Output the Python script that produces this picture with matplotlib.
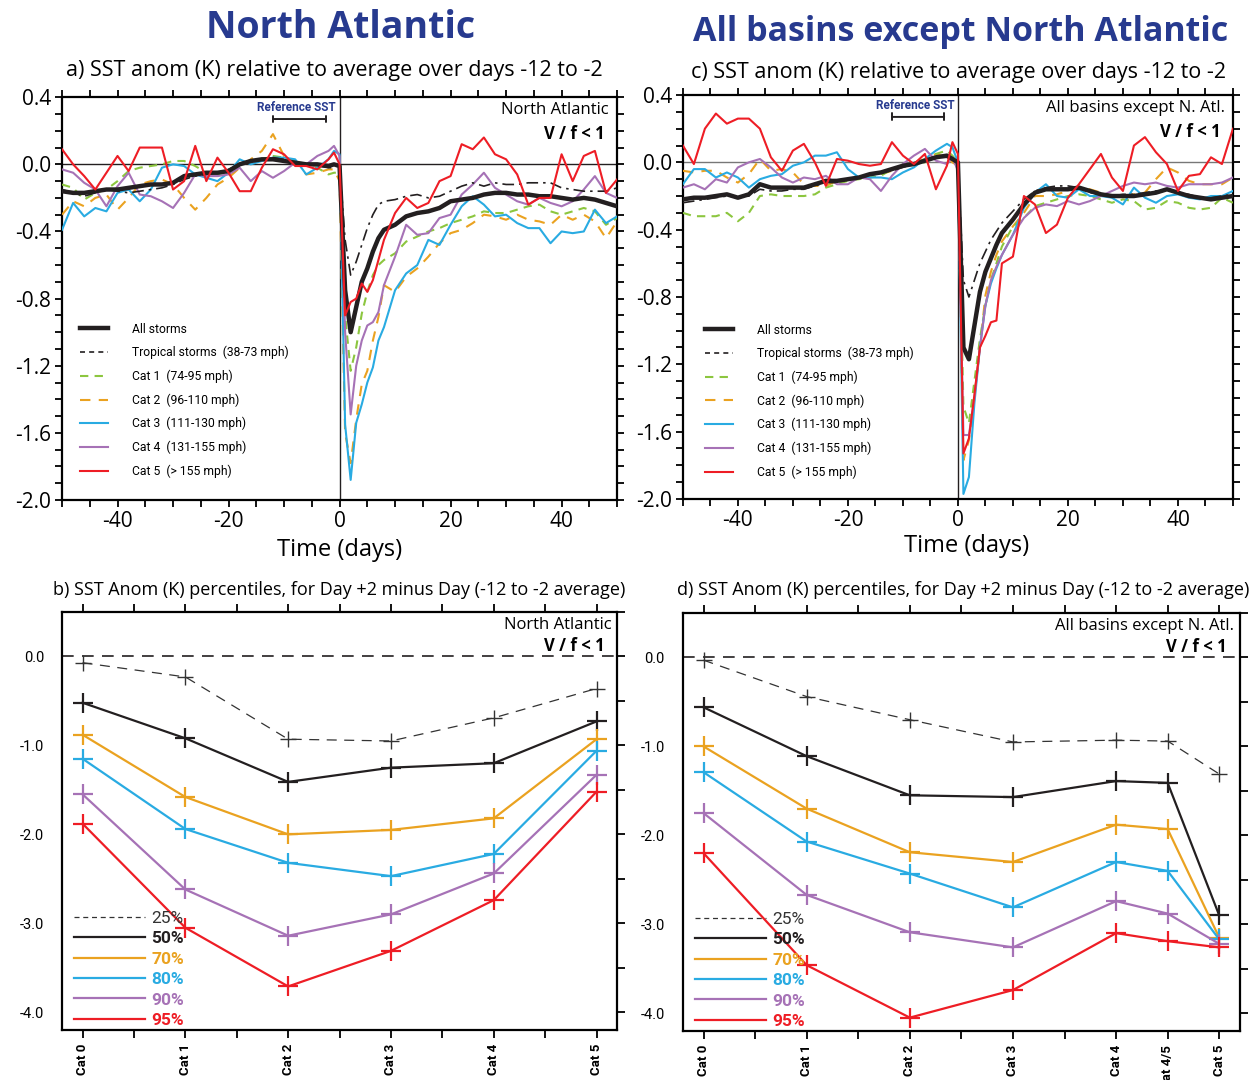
import numpy as np
import matplotlib
matplotlib.use('Agg')
import matplotlib.pyplot as plt
from matplotlib.lines import Line2D
from matplotlib.ticker import MultipleLocator, FormatStrFormatter

plt.rcParams['font.family'] = ['Open Sans', 'DejaVu Sans']
plt.rcParams['axes.unicode_minus'] = False

NARROW = ['Roboto', 'DejaVu Sans']
TITLE_BLUE = '#273a8f'
INK = '#231f20'

# composite days: 2-day steps far from the storm, daily steps right after it
days = list(range(-50, -1, 2)) + list(range(-1, 9)) + list(range(10, 51, 2))

# ---- North Atlantic SST anomaly composites (K)
all_na = [-0.16, -0.17, -0.17, -0.16, -0.15, -0.15, -0.14, -0.13, -0.12, -0.12, -0.11, -0.07, -0.06,
          -0.05, -0.05, -0.04, 0.00, 0.02, 0.03, 0.03, 0.02, 0.01, 0.00, 0.00, -0.01,
          0.00, -0.01, -0.75, -1.00, -0.85, -0.70, -0.62, -0.52, -0.44, -0.39,
          -0.36, -0.31, -0.29, -0.28, -0.26, -0.22, -0.21, -0.20, -0.18, -0.17, -0.17,
          -0.18, -0.18, -0.19, -0.19, -0.20, -0.21, -0.20, -0.21, -0.23, -0.25]
ts_na = [-0.15, -0.17, -0.19, -0.17, -0.15, -0.16, -0.17, -0.16, -0.15, -0.14, -0.12, -0.09, -0.07,
         -0.06, -0.05, -0.03, 0.00, 0.02, 0.03, 0.04, 0.03, 0.01, 0.00, -0.01, -0.02,
         -0.02, 0.00, -0.45, -0.66, -0.58, -0.48, -0.38, -0.30, -0.24, -0.22,
         -0.21, -0.19, -0.18, -0.20, -0.19, -0.16, -0.13, -0.11, -0.13, -0.11, -0.12,
         -0.12, -0.11, -0.11, -0.11, -0.14, -0.15, -0.16, -0.16, -0.16, -0.14]
cat1_na = [-0.12, -0.14, -0.21, -0.17, -0.15, -0.10, -0.04, -0.02, -0.01, 0.00, 0.02, 0.02, -0.01,
           -0.05, -0.06, -0.04, 0.00, 0.02, 0.03, 0.05, 0.04, 0.02, 0.00, -0.02, -0.06,
           -0.05, -0.05, -0.90, -1.23, -1.09, -0.89, -0.76, -0.66, -0.60, -0.57,
           -0.53, -0.46, -0.43, -0.40, -0.38, -0.35, -0.33, -0.31, -0.28, -0.29, -0.29,
           -0.27, -0.25, -0.24, -0.28, -0.30, -0.28, -0.26, -0.28, -0.36, -0.32]
cat2_na = [-0.30, -0.22, -0.25, -0.20, -0.18, -0.27, -0.20, -0.12, -0.10, -0.09, -0.12, -0.20, -0.27,
           -0.20, -0.12, -0.08, -0.02, 0.03, 0.08, 0.18, 0.05, 0.02, -0.06, -0.05, -0.03,
           -0.03, -0.10, -1.60, -1.78, -1.52, -1.31, -1.23, -1.05, -0.91, -0.72,
           -0.76, -0.67, -0.62, -0.55, -0.47, -0.41, -0.39, -0.35, -0.30, -0.31, -0.33,
           -0.30, -0.33, -0.34, -0.36, -0.30, -0.33, -0.30, -0.34, -0.44, -0.34]
cat3_na = [-0.39, -0.23, -0.31, -0.26, -0.28, -0.17, -0.15, -0.22, -0.15, -0.02, 0.00, -0.01, -0.06,
           -0.08, -0.10, -0.05, 0.03, 0.00, 0.02, 0.04, 0.04, 0.03, -0.06, -0.02, 0.03,
           0.08, 0.06, -1.55, -1.88, -1.54, -1.43, -1.30, -1.21, -1.05, -0.97,
           -0.75, -0.65, -0.60, -0.45, -0.48, -0.36, -0.25, -0.19, -0.24, -0.31, -0.30,
           -0.35, -0.38, -0.38, -0.47, -0.40, -0.41, -0.40, -0.27, -0.35, -0.31]
cat4_na = [-0.03, -0.05, -0.11, -0.15, -0.25, -0.13, -0.05, -0.18, -0.19, -0.22, -0.26, -0.17, -0.06,
           -0.07, -0.07, -0.06, -0.02, -0.10, -0.04, -0.08, -0.04, 0.01, 0.00, 0.05, 0.08,
           0.11, 0.05, -1.00, -1.49, -1.20, -1.05, -0.96, -0.94, -0.88, -0.72,
           -0.55, -0.36, -0.42, -0.41, -0.32, -0.30, -0.18, -0.12, -0.05, -0.14, -0.18,
           -0.22, -0.24, -0.20, -0.23, -0.25, -0.22, -0.15, -0.07, -0.17, -0.20]
cat5_na = [0.09, 0.00, -0.07, -0.15, -0.05, 0.05, -0.04, 0.10, 0.10, 0.10, -0.15, -0.10, 0.11,
           -0.10, 0.04, -0.05, -0.16, -0.16, -0.02, 0.09, 0.06, -0.01, -0.01, -0.03, 0.03,
           0.07, 0.00, -0.90, -0.82, -0.80, -0.71, -0.76, -0.69, -0.57, -0.45,
           -0.29, -0.20, -0.26, -0.23, -0.10, -0.07, 0.12, 0.09, 0.16, 0.06, 0.03,
           -0.06, -0.24, -0.20, -0.20, 0.06, -0.10, 0.05, 0.08, -0.17, -0.09]

# ---- all other basins
all_ot = [-0.22, -0.21, -0.21, -0.20, -0.19, -0.21, -0.19, -0.13, -0.15, -0.15, -0.15, -0.15, -0.13,
          -0.11, -0.11, -0.10, -0.09, -0.07, -0.06, -0.04, -0.02, -0.01, 0.01, 0.03, 0.04,
          0.02, 0.00, -1.10, -1.17, -0.97, -0.77, -0.65, -0.57, -0.49, -0.42,
          -0.34, -0.25, -0.18, -0.16, -0.16, -0.16, -0.15, -0.17, -0.19, -0.20, -0.20,
          -0.20, -0.19, -0.18, -0.16, -0.18, -0.20, -0.21, -0.22, -0.21, -0.20]
ts_ot = [-0.24, -0.23, -0.22, -0.21, -0.20, -0.21, -0.20, -0.16, -0.17, -0.17, -0.16, -0.16, -0.14,
         -0.12, -0.12, -0.10, -0.09, -0.08, -0.06, -0.05, -0.03, -0.01, 0.01, 0.03, 0.03,
         0.02, 0.00, -0.70, -0.80, -0.70, -0.60, -0.53, -0.46, -0.41, -0.36,
         -0.29, -0.22, -0.17, -0.15, -0.14, -0.14, -0.15, -0.18, -0.19, -0.20, -0.19,
         -0.19, -0.18, -0.17, -0.16, -0.18, -0.19, -0.21, -0.21, -0.20, -0.19]
cat1_ot = [-0.30, -0.32, -0.32, -0.32, -0.30, -0.35, -0.30, -0.20, -0.19, -0.20, -0.20, -0.20, -0.19,
           -0.15, -0.13, -0.11, -0.10, -0.09, -0.08, -0.04, -0.02, -0.01, 0.00, 0.05, 0.07,
           0.04, 0.00, -1.45, -1.55, -1.30, -1.05, -0.85, -0.70, -0.60, -0.50,
           -0.38, -0.33, -0.26, -0.24, -0.22, -0.20, -0.19, -0.20, -0.22, -0.24, -0.22,
           -0.23, -0.28, -0.27, -0.23, -0.24, -0.27, -0.28, -0.27, -0.21, -0.24]
cat2_ot = [-0.05, -0.06, -0.05, -0.05, -0.09, -0.12, -0.07, 0.02, -0.05, -0.04, -0.06, -0.13, -0.14,
           -0.14, -0.11, -0.10, -0.09, -0.09, -0.07, -0.05, -0.02, 0.00, 0.02, 0.05, 0.03,
           0.00, -0.02, -1.77, -1.65, -1.39, -1.10, -0.79, -0.65, -0.55, -0.47,
           -0.38, -0.30, -0.20, -0.20, -0.19, -0.17, -0.15, -0.16, -0.18, -0.20, -0.20,
           -0.19, -0.18, -0.10, -0.03, -0.06, -0.11, -0.13, -0.13, -0.13, -0.09]
cat3_ot = [-0.13, -0.04, -0.04, -0.09, -0.06, -0.09, -0.15, -0.10, -0.08, -0.07, -0.02, 0.00, 0.04,
           0.04, 0.06, -0.04, -0.09, -0.09, -0.09, -0.10, -0.06, -0.03, 0.02, 0.07, 0.11,
           0.09, 0.00, -1.97, -1.87, -1.43, -1.10, -0.85, -0.72, -0.63, -0.55,
           -0.43, -0.27, -0.18, -0.13, -0.20, -0.21, -0.16, -0.20, -0.20, -0.21, -0.25,
           -0.15, -0.21, -0.24, -0.20, -0.19, -0.21, -0.22, -0.20, -0.20, -0.17]
cat4_ot = [-0.15, -0.13, -0.16, -0.10, -0.12, -0.03, 0.00, 0.02, -0.03, -0.09, -0.12, -0.09, -0.10,
           -0.08, -0.13, -0.13, -0.09, -0.10, -0.17, -0.08, -0.01, 0.04, 0.08, 0.01, -0.01,
           0.03, -0.05, -1.62, -1.62, -1.40, -1.10, -0.85, -0.70, -0.62, -0.55,
           -0.43, -0.33, -0.27, -0.25, -0.26, -0.23, -0.25, -0.23, -0.20, -0.17, -0.14,
           -0.12, -0.13, -0.12, -0.14, -0.15, -0.13, -0.13, -0.13, -0.12, -0.09]
cat5_ot = [0.10, -0.01, 0.20, 0.29, 0.23, 0.26, 0.26, 0.20, 0.03, -0.05, 0.07, 0.11, 0.00,
           -0.14, 0.02, 0.01, -0.01, -0.02, -0.01, 0.12, 0.04, -0.01, 0.05, -0.16, -0.02,
           0.12, 0.05, -1.73, -1.64, -1.38, -1.10, -1.03, -0.95, -0.94, -0.60,
           -0.56, -0.20, -0.25, -0.42, -0.37, -0.21, -0.13, -0.04, 0.05, -0.09, -0.17,
           0.10, 0.15, 0.06, -0.01, -0.17, -0.08, -0.07, 0.03, -0.01, 0.20]

series_keys = ['all', 'ts', 'cat1', 'cat2', 'cat3', 'cat4', 'cat5']
series_labels = ['All storms', 'Tropical storms  (38-73 mph)', 'Cat 1  (74-95 mph)',
                 'Cat 2  (96-110 mph)', 'Cat 3  (111-130 mph)', 'Cat 4  (131-155 mph)',
                 'Cat 5  (> 155 mph)']
ref_days = [-12, -2.5]

# ---- percentiles of day +2 SST anomaly (K) per category
pct_labels = ['25%', '50%', '70%', '80%', '90%', '95%']
cats_na = [0, 1, 2, 3, 4, 5]
cat_names_na = ['Cat 0', 'Cat 1', 'Cat 2', 'Cat 3', 'Cat 4', 'Cat 5']
p25_na = [-0.07, -0.23, -0.93, -0.95, -0.69, -0.36]
p50_na = [-0.52, -0.92, -1.41, -1.25, -1.20, -0.73]
p70_na = [-0.88, -1.58, -2.00, -1.95, -1.82, -0.93]
p80_na = [-1.15, -1.94, -2.32, -2.47, -2.22, -1.06]
p90_na = [-1.55, -2.62, -3.14, -2.90, -2.44, -1.33]
p95_na = [-1.88, -3.05, -3.71, -3.31, -2.74, -1.52]

cats_ot = [0, 1, 2, 3, 4, 4.5, 5]
cat_names_ot = ['Cat 0', 'Cat 1', 'Cat 2', 'Cat 3', 'Cat 4', 'Cat 4/5', 'Cat 5']
p25_ot = [-0.03, -0.44, -0.70, -0.95, -0.93, -0.94, -1.31]
p50_ot = [-0.56, -1.11, -1.55, -1.57, -1.39, -1.41, -2.90]
p70_ot = [-1.00, -1.70, -2.19, -2.30, -1.88, -1.93, -3.15]
p80_ot = [-1.29, -2.07, -2.43, -2.81, -2.30, -2.40, -3.17]
p90_ot = [-1.75, -2.67, -3.09, -3.26, -2.74, -2.88, -3.22]
p95_ot = [-2.20, -3.46, -4.05, -3.74, -3.10, -3.19, -3.26]

# styles
line_color = {'all': INK, 'ts': INK, 'cat1': '#8cc63f', 'cat2': '#eaa220',
              'cat3': '#29abe2', 'cat4': '#a672b6', 'cat5': '#ee1d25'}
line_width = {'all': 3.2, 'ts': 1.2, 'cat1': 1.5, 'cat2': 1.5, 'cat3': 1.5, 'cat4': 1.5, 'cat5': 1.5}
line_style = {'all': '-', 'ts': (0, (7, 3, 1.5, 3)), 'cat1': (0, (4, 3)), 'cat2': (0, (5, 4)),
              'cat3': '-', 'cat4': '-', 'cat5': '-'}
legend_style = dict(line_style, ts=(0, (3, 2.5)))
draw_order = ['cat2', 'cat1', 'cat3', 'cat4', 'all', 'ts', 'cat5']

pct_color = ['#333333', INK, '#eaa220', '#29abe2', '#a672b6', '#ee1d25']


def sst_panel(ax, data, corner, zero_color, leg_anchor):
    ax.axhline(0, color=zero_color, lw=1.0, zorder=1)
    ax.axvline(0, color=INK, lw=1.0, zorder=1)
    for key in draw_order:
        ax.plot(days, data[key], color=line_color[key], lw=line_width[key],
                ls=line_style[key], zorder=3)
    ax.set_xlim(-50, 50)
    ax.set_ylim(-2.0, 0.4)
    ax.xaxis.set_major_locator(MultipleLocator(20))
    ax.xaxis.set_minor_locator(MultipleLocator(5))
    ax.yaxis.set_major_locator(MultipleLocator(0.4))
    ax.yaxis.set_minor_locator(MultipleLocator(0.1))
    ax.yaxis.set_major_formatter(FormatStrFormatter('%.1f'))
    ax.tick_params(which='both', direction='out', top=True, right=True, width=1.3, length=5)
    ax.tick_params(which='major', labelsize=15, pad=3)
    for s in ax.spines.values():
        s.set_linewidth(1.6)

    handles = [Line2D([], [], color=line_color[k], lw=line_width[k], ls=legend_style[k])
               for k in series_keys]
    ax.legend(handles, series_labels, loc='lower left', bbox_to_anchor=leg_anchor,
              frameon=False, handlelength=2.3, handletextpad=2.0, labelspacing=0.85,
              borderaxespad=0, borderpad=0, prop=dict(family=NARROW, size=8.7))

    ax.annotate('', xy=(ref_days[1], 0.27), xytext=(ref_days[0], 0.27),
                arrowprops=dict(arrowstyle='|-|, widthA=0.25, widthB=0.25', color=INK,
                                lw=1.4, shrinkA=0, shrinkB=0))
    ax.text(np.mean(ref_days) - 0.5, 0.30, 'Reference SST', ha='center', va='bottom',
            fontsize=8.5, fontweight='bold', color=TITLE_BLUE, family=NARROW)
    ax.text(0.985, 0.988, corner, transform=ax.transAxes, ha='right', va='top', fontsize=12)
    ax.text(0.978, 0.93, 'V / f < 1', transform=ax.transAxes, ha='right', va='top',
            fontsize=12, fontweight='bold')


def pct_panel(ax, cats, cat_names, rows, corner):
    ax.axhline(0, color=INK, lw=1.2, ls=(0, (7, 5)), zorder=1)
    for i, vals in enumerate(rows):
        if i == 0:
            ax.plot(cats, vals, color=pct_color[i], lw=0.9, ls=(0, (8, 6)), marker='+',
                    ms=11, mew=1.0, zorder=3)
        else:
            ax.plot(cats, vals, color=pct_color[i], lw=1.6, marker='+', ms=14, mew=1.6,
                    zorder=3)
    ax.set_xlim(-0.2, 5.2)
    ax.set_ylim(-4.2, 0.5)
    ax.set_xticks(cats, cat_names, rotation=90, fontsize=9.5, fontweight='bold', family=NARROW)
    ax.xaxis.set_minor_locator(MultipleLocator(0.5))
    ax.yaxis.set_major_locator(MultipleLocator(1.0))
    ax.yaxis.set_minor_locator(MultipleLocator(0.5))
    ax.yaxis.set_major_formatter(FormatStrFormatter('%.1f'))
    ax.tick_params(axis='x', which='both', direction='out', top=True, bottom=True,
                   length=6, width=1.3, pad=4)
    ax.tick_params(axis='y', which='both', left=False, right=True, direction='out',
                   length=6, width=1.3)
    ax.tick_params(axis='y', which='major', labelsize=10.5, pad=7)
    for lab in ax.get_yticklabels():
        lab.set_family(NARROW)
    for s in ax.spines.values():
        s.set_linewidth(1.6)

    handles = [Line2D([], [], color=pct_color[0], lw=0.9, ls=(0, (4, 3)))]
    handles += [Line2D([], [], color=c, lw=1.6) for c in pct_color[1:]]
    leg = ax.legend(handles, pct_labels, loc='lower left', bbox_to_anchor=(0.022, 0.005),
                    frameon=False, handlelength=4.1, handletextpad=0.35, labelspacing=0.3,
                    borderaxespad=0, borderpad=0, prop=dict(family=NARROW, size=12.5))
    for i, t in enumerate(leg.get_texts()):
        t.set_color(pct_color[i])
        if i > 0:
            t.set_fontweight('bold')

    ax.text(0.99, 0.988, corner, transform=ax.transAxes, ha='right', va='top', fontsize=12)
    ax.text(0.977, 0.94, 'V / f < 1', transform=ax.transAxes, ha='right', va='top',
            fontsize=12, fontweight='bold')


fig = plt.figure(figsize=(12.53, 10.8), dpi=100)
ax_a = fig.add_axes([0.0495, 0.537, 0.443, 0.373])
ax_c = fig.add_axes([0.545, 0.538, 0.439, 0.374])
ax_b = fig.add_axes([0.0495, 0.0463, 0.443, 0.387])
ax_d = fig.add_axes([0.545, 0.0454, 0.4445, 0.387])

na = dict(zip(series_keys, [all_na, ts_na, cat1_na, cat2_na, cat3_na, cat4_na, cat5_na]))
ot = dict(zip(series_keys, [all_ot, ts_ot, cat1_ot, cat2_ot, cat3_ot, cat4_ot, cat5_ot]))

sst_panel(ax_a, na, 'North Atlantic', INK, (0.032, 0.055))
sst_panel(ax_c, ot, 'All basins except N. Atl.', '#777777', (0.04, 0.05))
pct_panel(ax_b, cats_na, cat_names_na, [p25_na, p50_na, p70_na, p80_na, p90_na, p95_na],
          'North Atlantic')
pct_panel(ax_d, cats_ot, cat_names_ot, [p25_ot, p50_ot, p70_ot, p80_ot, p90_ot, p95_ot],
          'All basins except N. Atl.')

fig.text(0.272, 0.974, 'North Atlantic', ha='center', va='center', fontsize=27,
         fontweight='bold', color=TITLE_BLUE)
fig.text(0.767, 0.970, 'All basins except North Atlantic', ha='center', va='center',
         fontsize=24.5, fontweight='bold', color=TITLE_BLUE)
fig.text(0.267, 0.935, 'a) SST anom (K) relative to average over days -12 to -2',
         ha='center', va='center', fontsize=15.5)
fig.text(0.765, 0.933, 'c) SST anom (K) relative to average over days -12 to -2',
         ha='center', va='center', fontsize=15.5)
fig.text(0.271, 0.491, 'Time (days)', ha='center', va='center', fontsize=17)
fig.text(0.771, 0.494, 'Time (days)', ha='center', va='center', fontsize=17)
fig.text(0.271, 0.454, 'b) SST Anom (K) percentiles, for Day +2 minus Day (-12 to -2 average)',
         ha='center', va='center', fontsize=13)
fig.text(0.769, 0.454, 'd) SST Anom (K) percentiles, for Day +2 minus Day (-12 to -2 average)',
         ha='center', va='center', fontsize=13)

fig.savefig('out.png', dpi=100)
